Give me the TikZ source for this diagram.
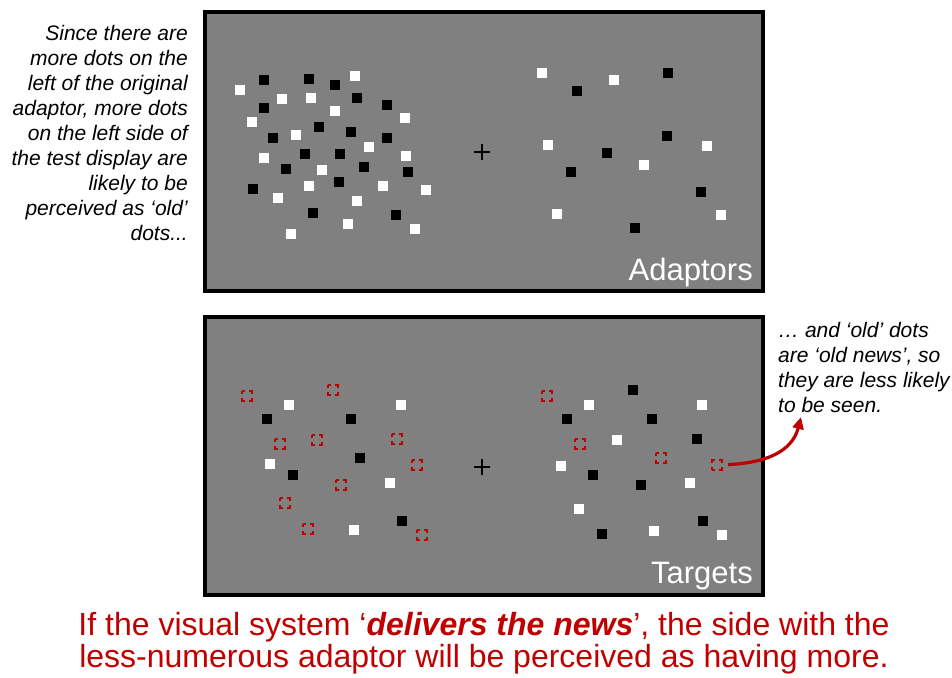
\documentclass[tikz,border=0pt]{standalone}
\usepackage{fontspec}
\setmainfont{Liberation Sans}
\usepackage{tikz}
\usetikzlibrary{positioning, arrows.meta}
\definecolor{panelgrey}{HTML}{808080}
\definecolor{newsred}{HTML}{C00000}

\begin{document}
\begin{tikzpicture}[
	x=1pt, y=-1pt,
	panel/.style = {draw=black, fill=panelgrey, line width=4pt, minimum width=558pt, inner sep=0pt},
	olddot/.style = {draw=newsred, line width=1.6pt, dash pattern=on 6pt off 4pt, dash phase=3pt},
	fixcross/.style = {draw=black, line width=2.6pt},
	panellabel/.style = {font=\fontsize{31}{31}\selectfont, text=white, inner sep=0pt},
	note/.style = {font=\fontsize{21}{25}\selectfont\itshape, inner sep=0pt},
	claim/.style = {font=\fontsize{32}{32}\selectfont, text=newsred, align=center, inner sep=0pt},
	newsarrow/.style = {draw=newsred, line width=3.2pt, -{Triangle[length=12pt, width=11pt]}}
]
  \useasboundingbox (0,0) rectangle (952,677);

  % Define panels
  \node[panel, minimum height=279pt] at (484, 151.5) (adapt) {};
  \node[panel, minimum height=278pt] at (484, 456) (target) {};
  \node[panellabel, anchor=base east] at (753, 280) (adaptlbl) {Adaptors};
  \node[panellabel, anchor=base east] at (753, 583) (targetlbl) {Targets};

  % fixation crosses
  \draw[fixcross] (474,152) -- (490,152) (482,144) -- (482,160);
  \draw[fixcross] (474,467) -- (490,467) (482,459) -- (482,475);

  % adaptor dots
  \foreach \x/\y in {240/90, 355/76, 282/99, 311/98, 335/111, 405/118, 252/122, 296/135, 369/147, 264/158,
      406/156, 322/170, 309/186, 383/186, 426/190, 278/198, 357/201, 348/224, 415/229, 291/234,
      542/73, 614/80, 548/145, 707/146, 644/165, 557/214, 721/215}
    \fill[white] (\x-4.7, \y-4.7) rectangle ++(9.4, 9.4);
  \foreach \x/\y in {264/80, 309/79, 335/85, 357/98, 387/105, 264/108, 319/127, 351/132, 387/138, 273/138,
      305/154, 340/154, 286/169, 364/167, 408/172, 253/189, 339/182, 313/213, 396/215,
      577/91, 668/73, 667/136, 607/153, 571/172, 701/192, 635/228}
    \fill[black] (\x-4.7, \y-4.7) rectangle ++(9.4, 9.4);

  % target dots
  \foreach \x/\y in {289/405, 401/405, 270/464, 390/483, 354/530,
      589/405, 702/405, 617/440, 561/466, 690/483, 579/509, 654/531, 722/535}
    \fill[white] (\x-4.7, \y-4.7) rectangle ++(9.4, 9.4);
  \foreach \x/\y in {267/419, 351/419, 360/458, 293/475, 402/521,
      633/390, 567/419, 652/419, 697/439, 593/475, 641/485, 703/521, 602/534}
    \fill[black] (\x-4.7, \y-4.7) rectangle ++(9.4, 9.4);
  \foreach \x/\y in {247/396, 333/390, 280/444, 317/440, 397/439, 417/465, 341/485, 285/503, 308/529, 422/535,
      547/396, 580/444, 661/458}
    \draw[olddot] (\x-5, \y-5) rectangle ++(10, 10);
  \node[olddot, minimum size=10pt, inner sep=0pt, outer sep=0pt] at (717, 465) (lastold) {};

  % notes
  \node[note, align=right, anchor=north east] at (188, 25) (leftnote)
    {Since there are\\ more dots on the\\ left of the original\\ adaptor, more dots\\ on the left side of\\
     the test display are\\ likely to be\\ perceived as ‘old’\\ dots...};
  \node[note, align=left, anchor=north west] at (778, 322) (rightnote)
    {… and ‘old’ dots\\ are ‘old news’, so\\ they are less likely\\ to be seen.};
  \node[claim, anchor=north] at (484, 612) (claimtxt)
    {If the visual system ‘\textbf{\textit{delivers the news}}’, the side with the\\
     less-numerous adaptor will be perceived as having more.};

  \coordinate (seen) at (801, 417);
  \draw[newsarrow, shorten <=6pt] (lastold) .. controls (765, 463) and (792, 452) .. (seen);
\end{tikzpicture}
\end{document}
